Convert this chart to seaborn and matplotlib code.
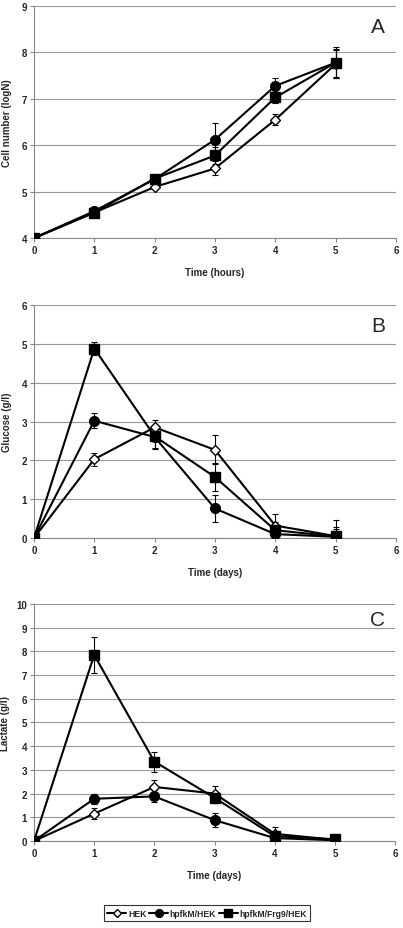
import pandas as pd
import matplotlib
matplotlib.use("Agg")
import matplotlib.pyplot as plt
import seaborn as sns

sns.set_theme(style="white")
plt.rcParams['font.family'] = ['Liberation Sans', 'DejaVu Sans']

# Data
time = [0, 1, 2, 3, 4, 5]
series = ['HEK', 'hpfkM/HEK', 'hpfkM/Frg9/HEK']

cell_hek = [4.0, 4.55, 5.10, 5.50, 6.55, 7.75]
cell_hek_err = [0, 0.03, 0.05, 0.15, 0.12, 0.30]
cell_m = [4.0, 4.58, 5.27, 6.12, 7.28, 7.78]
cell_m_err = [0, 0.03, 0.05, 0.35, 0.16, 0.33]
cell_mf = [4.0, 4.55, 5.28, 5.78, 7.03, 7.78]
cell_mf_err = [0, 0.03, 0.05, 0.18, 0.12, 0.30]

glu_hek = [0.0, 2.03, 2.85, 2.27, 0.32, 0.05]
glu_hek_err = [0, 0.17, 0.20, 0.37, 0.30, 0.42]
glu_m = [0.0, 3.02, 2.60, 0.76, 0.10, 0.03]
glu_m_err = [0, 0.20, 0.30, 0.36, 0.10, 0.20]
glu_mf = [0.0, 4.88, 2.62, 1.57, 0.20, 0.04]
glu_mf_err = [0, 0.18, 0.30, 0.37, 0.22, 0.25]

lac_hek = [0.0, 1.15, 2.28, 2.00, 0.30, 0.05]
lac_hek_err = [0, 0.22, 0.30, 0.30, 0.30, 0.05]
lac_m = [0.0, 1.78, 1.88, 0.88, 0.12, 0.03]
lac_m_err = [0, 0.20, 0.25, 0.30, 0.10, 0.03]
lac_mf = [0.0, 7.85, 3.35, 1.82, 0.20, 0.07]
lac_mf_err = [0, 0.75, 0.42, 0.20, 0.10, 0.05]

markers = {'HEK': 'D', 'hpfkM/HEK': 'o', 'hpfkM/Frg9/HEK': 's'}
faces = {'HEK': 'white', 'hpfkM/HEK': 'black', 'hpfkM/Frg9/HEK': 'black'}
msize = {'HEK': 5, 'hpfkM/HEK': 7, 'hpfkM/Frg9/HEK': 7}

panels = [
    dict(vals=[cell_hek, cell_m, cell_mf], errs=[cell_hek_err, cell_m_err, cell_mf_err],
         ylim=(4, 9), yticks=range(4, 10), ylabel='Cell number (logN)', xlabel='Time (hours)',
         letter='A', rect=[0.0844, 0.7427, 0.898, 0.2497], ly=0.91, ylx=-0.062),
    dict(vals=[glu_hek, glu_m, glu_mf], errs=[glu_hek_err, glu_m_err, glu_mf_err],
         ylim=(0, 6), yticks=range(0, 7), ylabel='Glucose (g/l)', xlabel='Time (days)',
         letter='B', rect=[0.0844, 0.4198, 0.898, 0.2508], ly=0.91, ylx=-0.062),
    dict(vals=[lac_hek, lac_m, lac_mf], errs=[lac_hek_err, lac_m_err, lac_mf_err],
         ylim=(0, 10), yticks=range(0, 11), ylabel='Lactate (g/l)', xlabel='Time (days)',
         letter='C', rect=[0.0844, 0.0937, 0.896, 0.2551], ly=0.935, ylx=-0.066),
]

fig = plt.figure(figsize=(4.03, 9.29), dpi=100)

for p in panels:
    ax = fig.add_axes(p['rect'])
    rows = []
    for name, v in zip(series, p['vals']):
        for t, y in zip(time, v):
            rows.append({'time': t, 'value': y, 'series': name})
    df = pd.DataFrame(rows)
    for name, v, e in zip(series, p['vals'], p['errs']):
        ax.errorbar(time, v, yerr=e, fmt='none', ecolor='black', elinewidth=0.8,
                    capsize=2.5, capthick=0.8, zorder=2)
        sub = df[df['series'] == name]
        sns.lineplot(data=sub, x='time', y='value', ax=ax, color='black', linewidth=1.5,
                     marker=markers[name], markersize=msize[name],
                     markerfacecolor=faces[name], markeredgecolor='black',
                     markeredgewidth=1.0, label=name, legend=False, zorder=3)
    ax.set_xlim(0, 6)
    ax.set_ylim(*p['ylim'])
    ax.set_xticks(range(0, 7))
    ax.set_yticks(list(p['yticks']))
    ax.yaxis.grid(True, color='#999999', linewidth=0.8)
    ax.set_axisbelow(True)
    for s in ['top', 'right']:
        ax.spines[s].set_visible(False)
    for s in ['left', 'bottom']:
        ax.spines[s].set_color('#888888')
        ax.spines[s].set_linewidth(0.8)
    ax.tick_params(axis='both', direction='out', length=3, width=0.8, color='#888888',
                   labelsize=7, pad=2, left=True, bottom=True)
    for lab in ax.get_xticklabels() + ax.get_yticklabels():
        lab.set_fontweight('bold')
    ax.set_xlabel(p['xlabel'], fontsize=7, fontweight='bold', labelpad=9)
    ax.set_ylabel(p['ylabel'], fontsize=7, fontweight='bold')
    ax.yaxis.set_label_coords(p['ylx'], 0.5)
    ax.text(0.95, p['ly'], p['letter'], transform=ax.transAxes, fontsize=15,
            ha='center', va='center')
    ax.patch.set_alpha(0)

handles, labels = ax.get_legend_handles_labels()
leg = fig.legend(handles, labels, loc='center', bbox_to_anchor=(0.514, 0.0161), ncol=3,
                 frameon=True, fancybox=False, edgecolor='black',
                 handlelength=2.2, handletextpad=0.2, columnspacing=0.3,
                 borderpad=0.4, markerscale=0.8, prop={'weight': 'bold', 'size': 6.2})
leg.get_frame().set_linewidth(0.8)

fig.savefig('out.png', dpi=100, facecolor='white')
